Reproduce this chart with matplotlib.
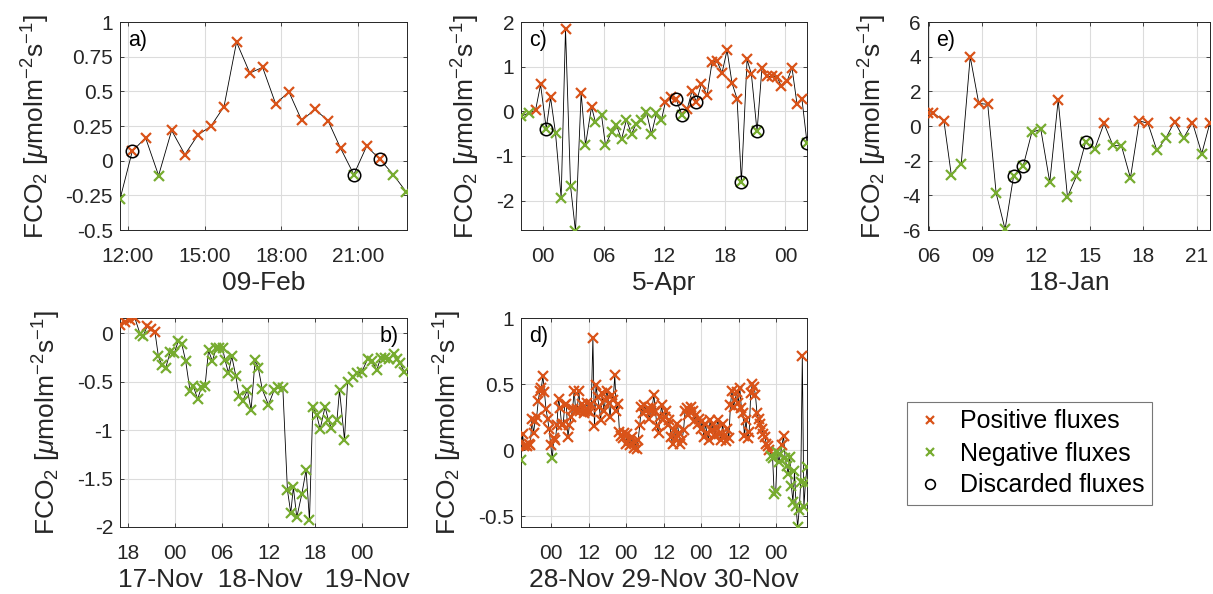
import numpy as np
import matplotlib
matplotlib.use("Agg")
import matplotlib.pyplot as plt
from matplotlib.lines import Line2D

plt.rcParams['font.family'] = ['Liberation Sans', 'DejaVu Sans']
plt.rcParams['mathtext.fontset'] = 'custom'
plt.rcParams['mathtext.rm'] = 'Liberation Sans'
plt.rcParams['mathtext.it'] = 'Liberation Sans:italic'
plt.rcParams['mathtext.bf'] = 'Liberation Sans:bold'
plt.rcParams['axes.unicode_minus'] = False

RED = '#D95319'
GREEN = '#77AC30'
DARK = '#262626'
GRIDC = '#dcdcdc'

# ---- a) 09-Feb (hours of day) ----
a_hours = [11.69, 12.17, 12.69, 13.2, 13.71, 14.23, 14.74, 15.24, 15.76, 16.25, 16.77, 17.27,
           17.78, 18.3, 18.8, 19.32, 19.83, 20.32, 20.84, 21.34, 21.86, 22.38, 22.9]
a_flux = [-0.278, 0.068, 0.165, -0.107, 0.218, 0.044, 0.186, 0.247, 0.39, 0.855, 0.632, 0.673,
          0.41, 0.496, 0.29, 0.37, 0.288, 0.09, -0.1, 0.104, 0.01, -0.1, -0.228]
a_discarded = [1, 18, 20]

# ---- c) 5-Apr (hours from 00:00 on 5-Apr) ----
c_hours = [-2.2, -1.42, -0.76, -0.26, 0.30, 0.73, 1.22, 1.78, 2.21, 2.71, 3.2, 3.76, 4.19, 4.79,
           5.18, 5.78, 6.17, 6.77, 7.26, 7.76, 8.25, 8.75, 9.21, 9.74, 10.23, 10.73, 11.22, 11.72,
           12.11, 12.67, 13.17, 13.76, 14.26, 14.75, 15.18, 15.68, 16.24, 16.73, 17.23, 17.72,
           18.22, 18.71, 19.21, 19.64, 20.2, 20.63, 21.19, 21.68, 22.18, 22.67, 23.17, 23.6,
           24.16, 24.65, 25.15, 25.64, 26.14]
c_flux = [-0.11, -0.04, 0.02, 0.6, -0.39, 0.31, -0.49, -1.94, 1.84, -1.68, -2.69, 0.41, -0.76, 0.1,
          -0.25, -0.09, -0.76, -0.46, -0.31, -0.63, -0.19, -0.51, -0.28, -0.2, -0.02, -0.51, -0.04,
          -0.19, 0.21, 0.32, 0.27, -0.09, 0.04, 0.46, 0.21, 0.62, 0.36, 1.1, 1.12, 0.86, 1.37, 0.63,
          0.28, -1.58, 1.16, 0.83, -0.45, 0.98, 0.78, 0.78, 0.77, 0.56, 0.67, 0.98, 0.16, 0.27, -0.7]
c_discarded = [4, 30, 31, 34, 43, 46, 56]

# ---- e) 18-Jan (hours of day) ----
e_hours = [5.96, 6.24, 6.85, 7.26, 7.82, 8.32, 8.8, 9.3, 9.77, 10.27, 10.75, 11.29, 11.77, 12.27,
           12.77, 13.24, 13.76, 14.26, 14.78, 15.28, 15.8, 16.3, 16.78, 17.28, 17.78, 18.26,
           18.76, 19.26, 19.75, 20.25, 20.75, 21.27, 21.73]
e_flux = [0.73, 0.77, 0.29, -2.8, -2.17, 4.0, 1.3, 1.25, -3.87, -5.96, -2.86, -2.28, -0.35, -0.2,
          -3.25, 1.5, -4.1, -2.9, -0.9, -1.35, 0.15, -1.12, -1.15, -3.0, 0.3, 0.15, -1.41, -0.7,
          0.25, -0.7, 0.2, -1.59, 0.2]
e_discarded = [10, 11, 18]

# ---- b) 17-19 Nov (hours from 00:00 on 17-Nov) ----
b_hours = [16.93, 17.57, 18.2, 18.86, 19.5, 19.93, 20.44, 20.91, 21.43, 21.86, 22.3, 22.8, 23.36,
           23.9, 24.4, 24.86, 25.37, 25.93, 26.36, 26.9, 27.4, 27.86, 28.3, 28.8, 29.27, 29.66,
           30.1, 30.43, 30.86, 31.29, 31.8, 32.23, 32.7, 33.3, 33.77, 34.29, 34.7, 35.2, 36.0,
           36.73, 37.29, 37.85, 38.44, 38.87, 39.2, 39.64, 40.29, 40.84, 41.27, 41.7, 42.2, 42.64,
           43.28, 43.7, 44.1, 44.8, 45.13, 45.77, 46.16, 46.8, 47.36, 48.0, 48.73, 49.3, 49.93,
           50.4, 51.0, 51.43, 52.07, 52.5, 52.9, 53.45]
b_flux = [0.086, 0.11, 0.13, 0.15, -0.007, -0.028, 0.076, 0.041, 0.007, -0.24, -0.33, -0.36, -0.2,
          -0.21, -0.086, -0.11, -0.29, -0.6, -0.55, -0.68, -0.56, -0.545, -0.18, -0.29, -0.155,
          -0.155, -0.155, -0.28, -0.41, -0.24, -0.44, -0.65, -0.7, -0.59, -0.79, -0.28, -0.36,
          -0.58, -0.74, -0.59, -0.56, -0.57, -1.62, -1.855, -1.59, -1.9, -1.66, -1.41, -1.93,
          -0.76, -0.845, -0.99, -0.76, -0.9, -0.98, -0.9, -0.59, -1.1, -0.51, -0.45, -0.41, -0.4,
          -0.27, -0.29, -0.38, -0.26, -0.26, -0.27, -0.22, -0.27, -0.31, -0.4]
b_discarded = []

# ---- d) 28-30 Nov, half-hourly (hours from 00:00 on 28-Nov) ----
d_start_hour = -9.6
d_interval = 0.5
d_flux = [
    -0.07, 0.12, 0.03, 0.04, 0.03, 0.05, 0.04, 0.24, 0.13, 0.22, 0.25, 0.37, 0.45, 0.47, 0.56, 0.44,
    0.31, 0.24, 0.16, 0.04,
    -0.06, 0.09, 0.08, 0.19, 0.39, 0.32, 0.19, 0.20, 0.34, 0.35, 0.10, 0.19, 0.25, 0.31, 0.45, 0.30,
    0.31, 0.45, 0.30, 0.35, 0.28, 0.30, 0.36, 0.30,
    0.29, 0.35, 0.85, 0.18, 0.49, 0.40, 0.33, 0.23, 0.43, 0.30, 0.38, 0.45, 0.36, 0.25, 0.42, 0.38,
    0.57, 0.30, 0.35, 0.14, 0.11, 0.09, 0.13, 0.05,
    0.12, 0.08, 0.04, 0.10, 0.02, 0.06, 0.01, 0.08, 0.19, 0.33, 0.28, 0.34, 0.30, 0.32, 0.24, 0.30,
    0.33, 0.42, 0.30, 0.18, 0.13, 0.25, 0.34, 0.24,
    0.25, 0.30, 0.19, 0.23, 0.10, 0.05, 0.15, 0.09, 0.20, 0.13, 0.05, 0.08, 0.15, 0.30, 0.32, 0.27,
    0.29, 0.33, 0.30, 0.22, 0.27, 0.20, 0.24, 0.16,
    0.22, 0.10, 0.20, 0.13, 0.08, 0.23, 0.15, 0.20, 0.11, 0.17, 0.23, 0.12, 0.08, 0.20, 0.11, 0.07,
    0.16, 0.09, 0.34, 0.45, 0.33, 0.38, 0.44, 0.36,
    0.47, 0.32, 0.28, 0.11, 0.23, 0.09, 0.14, 0.43, 0.50, 0.48, 0.42, 0.28, 0.24, 0.20, 0.16, 0.12,
    0.10, 0.05, 0.03, 0.00, -0.04, -0.06, -0.33, -0.31,
    -0.01, -0.09, -0.03, 0.04, 0.11, -0.06, -0.12, -0.18, -0.05, -0.27, -0.39, -0.16, -0.42, -0.58,
    -0.45, -0.24, 0.71, -0.43, -0.25, -0.13,
]
d_hours = d_start_hour + d_interval * np.arange(len(d_flux))
d_discarded = []

W, H = 1213, 594
fig = plt.figure(figsize=(W / 100, H / 100), dpi=100)


def make_axes(x0, y0, x1, y1):
    return fig.add_axes([x0 / W, 1 - y1 / H, (x1 - x0) / W, (y1 - y0) / H])


def style(ax, xlim, ylim, xticks, xlabels, yticks, ylabels, xlabel, tag, tag_right=False):
    ax.set_xlim(xlim)
    ax.set_ylim(ylim)
    ax.set_xticks(xticks)
    ax.set_xticklabels(xlabels)
    ax.set_yticks(yticks)
    ax.set_yticklabels(ylabels)
    ax.grid(True, color=GRIDC, lw=0.8)
    ax.set_axisbelow(True)
    ax.tick_params(direction='in', length=3, width=0.6, colors=DARK, labelsize=15,
                   top=True, right=True)
    ax.tick_params(axis='x', pad=12)
    ax.tick_params(axis='y', pad=5)
    for s in ax.spines.values():
        s.set_color(DARK)
        s.set_linewidth(0.7)
    ax.set_xlabel(xlabel, fontsize=19, color=DARK, labelpad=4)
    ax.set_ylabel(r'FCO$_2$ [$\mu$molm$^{-2}$s$^{-1}$]', fontsize=19, color=DARK, labelpad=10)
    if tag_right:
        ax.text(0.97, 0.96, tag, transform=ax.transAxes, ha='right', va='top', fontsize=15.5)
    else:
        ax.text(0.03, 0.96, tag, transform=ax.transAxes, ha='left', va='top', fontsize=15.5)


def draw(ax, hours, flux, discarded):
    t = np.asarray(hours, dtype=float)
    v = np.asarray(flux, dtype=float)
    ax.plot(t, v, color='k', lw=0.6, zorder=2)
    pos = v >= 0
    ax.plot(t[pos], v[pos], ls='none', marker='x', color=RED, ms=6.5, mew=1.6, zorder=3)
    ax.plot(t[~pos], v[~pos], ls='none', marker='x', color=GREEN, ms=6.5, mew=1.6, zorder=3)
    if discarded:
        idx = np.asarray(discarded)
        ax.plot(t[idx], v[idx], ls='none', marker='o', mfc='none', mec='k', ms=9, mew=1.1,
                zorder=4)


# a)
ax_a = make_axes(120, 22, 407, 230)
draw(ax_a, a_hours, a_flux, a_discarded)
style(ax_a, (11.69, 22.92), (-0.5, 1), [12, 15, 18, 21], ['12:00', '15:00', '18:00', '21:00'],
      [-0.5, -0.25, 0, 0.25, 0.5, 0.75, 1], ['-0.5', '-0.25', '0', '0.25', '0.5', '0.75', '1'],
      '09-Feb', 'a)')

# c)
ax_c = make_axes(521, 22, 807, 230)
draw(ax_c, c_hours, c_flux, c_discarded)
style(ax_c, (-2.2, 26.14), (-2.66, 2), [0, 6, 12, 18, 24], ['00', '06', '12', '18', '00'],
      [-2, -1, 0, 1, 2], ['-2', '-1', '0', '1', '2'], '5-Apr', 'c)')

# e)
ax_e = make_axes(928, 22, 1210, 230)
draw(ax_e, e_hours, e_flux, e_discarded)
style(ax_e, (5.96, 21.73), (-6, 6), [6, 9, 12, 15, 18, 21], ['06', '09', '12', '15', '18', '21'],
      [-6, -4, -2, 0, 2, 4, 6], ['-6', '-4', '-2', '0', '2', '4', '6'], '18-Jan', 'e)')

# b)
ax_b = make_axes(120, 318, 407, 527)
draw(ax_b, b_hours, b_flux, b_discarded)
style(ax_b, (16.93, 53.8), (-2, 0.155), [18, 24, 30, 36, 42, 48], ['18', '00', '06', '12', '18', '00'],
      [-2, -1.5, -1, -0.5, 0], ['-2', '-1.5', '-1', '-0.5', '0'],
      '17-Nov  18-Nov   19-Nov', 'b)', tag_right=True)

# d)
ax_d = make_axes(521, 318, 807, 527)
draw(ax_d, d_hours, d_flux, d_discarded)
style(ax_d, (-9.6, 81.9), (-0.58, 1), [0, 12, 24, 36, 48, 60, 72],
      ['00', '12', '00', '12', '00', '12', '00'],
      [-0.5, 0, 0.5, 1], ['-0.5', '0', '0.5', '1'], '28-Nov 29-Nov 30-Nov', 'd)')

handles = [
    Line2D([], [], ls='none', marker='x', color=RED, ms=6, mew=1.6),
    Line2D([], [], ls='none', marker='x', color=GREEN, ms=6, mew=1.6),
    Line2D([], [], ls='none', marker='o', mfc='none', mec='k', ms=7, mew=1.2),
]
labels = ['Positive fluxes', 'Negative fluxes', 'Discarded fluxes']
leg = fig.legend(handles, labels, loc='upper left', bbox_to_anchor=(907 / W, 1 - 402 / H),
                 fontsize=18, frameon=True, fancybox=False, borderaxespad=0, handlelength=1.2,
                 handletextpad=0.6, borderpad=0.3, labelspacing=0.32)
leg.get_frame().set_edgecolor('#555555')
leg.get_frame().set_linewidth(0.8)

fig.savefig('out.png', dpi=100)
